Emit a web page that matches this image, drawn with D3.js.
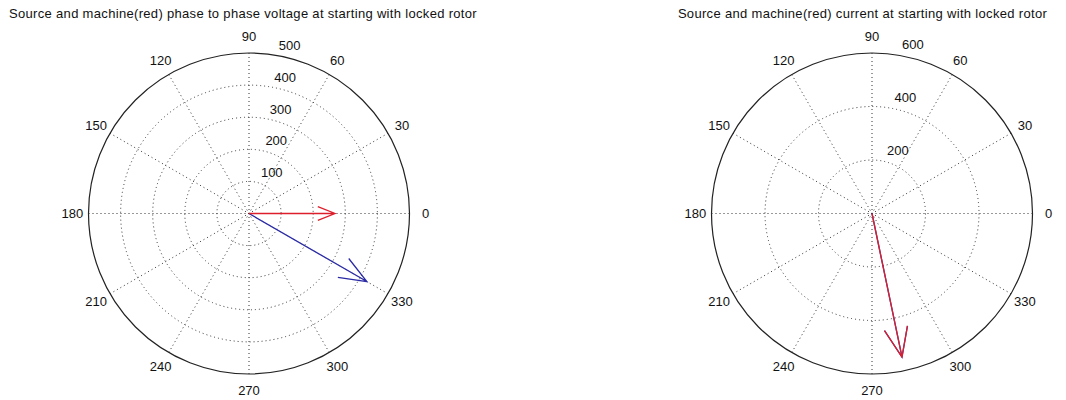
<!DOCTYPE html>
<html>
<head>
<meta charset="utf-8">
<script src="https://cdn.jsdelivr.net/npm/d3@7"></script>
<style>
  html, body { margin: 0; padding: 0; background: #fff; }
  svg text { font-family: "Liberation Sans", Arial, sans-serif; font-size: 13px; fill: #111; }
</style>
</head>
<body>
<svg id="fig" width="1066" height="400"></svg>
<script>
// Phasors at start-up with locked rotor (magnitude, angle in degrees)
const voltageLabels = ["Source", "Machine"];
const voltageMagnitudes = [424, 268];
const voltageAngles = [-30, 0];

const currentLabels = ["Source", "Machine"];
const currentMagnitudes = [548, 548];
const currentAngles = [-78.2, -78.2];

const seriesColors = ["#2a2aa6", "#dd1f2c"];

// Radial tick values for each polar axis
const voltageRadialTicks = [100, 200, 300, 400, 500];
const currentRadialTicks = [200, 400, 600];

// Angular labels every 30 degrees
const angleTicks = [0, 30, 60, 90, 120, 150, 180, 210, 240, 270, 300, 330];

const titles = [
  "Source and machine(red) phase to phase voltage at starting with locked rotor",
  "Source and machine(red) current at starting with locked rotor"
];

const svg = d3.select("#fig");

function compassPlot(opts) {
  const { cx, cy, R, ticks, mags, angs, title, titleX } = opts;
  const rMax = ticks[ticks.length - 1];
  const rInc = ticks[1] - ticks[0];
  const x = d3.scaleLinear().domain([-rMax, rMax]).range([cx - R, cx + R]);
  const y = d3.scaleLinear().domain([-rMax, rMax]).range([cy + R, cy - R]);
  const g = svg.append("g");

  // title
  g.append("text")
    .attr("x", titleX).attr("y", 18)
    .attr("text-anchor", "middle")
    .style("letter-spacing", "0.32px")
    .text(title);

  // outer boundary (solid)
  g.append("circle")
    .attr("cx", x(0)).attr("cy", y(0))
    .attr("r", x(rMax) - x(0))
    .attr("fill", "none").attr("stroke", "#222").attr("stroke-width", 1.2);

  // dotted range rings
  g.selectAll("circle.ring").data(ticks.slice(0, -1)).enter()
    .append("circle").attr("class", "ring")
    .attr("cx", x(0)).attr("cy", y(0))
    .attr("r", d => x(d) - x(0))
    .attr("fill", "none").attr("stroke", "#333").attr("stroke-width", 1)
    .attr("stroke-dasharray", "1,3");

  // dotted spokes across the full diameter
  const spokes = angleTicks.filter(a => a > 0 && a <= 180);
  g.selectAll("line.spoke").data(spokes).enter()
    .append("line").attr("class", "spoke")
    .attr("x1", a => x(-rMax * Math.cos(a * Math.PI / 180)))
    .attr("y1", a => y(-rMax * Math.sin(a * Math.PI / 180)))
    .attr("x2", a => x(rMax * Math.cos(a * Math.PI / 180)))
    .attr("y2", a => y(rMax * Math.sin(a * Math.PI / 180)))
    .attr("stroke", "#333").attr("stroke-width", 1)
    .attr("stroke-dasharray", "1,3");

  // radial tick labels along the 82 degree direction
  const c82 = Math.cos(82 * Math.PI / 180), s82 = Math.sin(82 * Math.PI / 180);
  g.selectAll("text.rlab").data(ticks).enter()
    .append("text").attr("class", "rlab")
    .attr("x", d => x((d + rInc / 20) * c82))
    .attr("y", d => y((d + rInc / 20) * s82))
    .attr("dx", "0.556em").attr("dy", "-0.22em")
    .attr("text-anchor", "start")
    .text(d => d);

  // angle labels at 1.1 * rMax
  g.selectAll("text.alab").data(angleTicks).enter()
    .append("text").attr("class", "alab")
    .attr("x", a => x(1.1 * rMax * Math.cos(a * Math.PI / 180)))
    .attr("y", a => y(1.1 * rMax * Math.sin(a * Math.PI / 180)))
    .attr("text-anchor", "middle")
    .attr("dominant-baseline", "central")
    .text(a => a);

  // compass arrows: shaft plus head (0.8 back, 0.08 half-width of length)
  const shape = [[0, 0], [1, 0], [0.8, 0.08], [1, 0], [0.8, -0.08]];
  const line = d3.line().x(p => x(p[0])).y(p => y(p[1]));
  mags.forEach((m, i) => {
    const t = angs[i] * Math.PI / 180;
    const re = m * Math.cos(t), im = m * Math.sin(t);
    const pts = shape.map(([a, b]) => [a * re - b * im, a * im + b * re]);
    g.append("path")
      .attr("d", line(pts))
      .attr("fill", "none")
      .attr("stroke", seriesColors[i])
      .attr("stroke-width", 1.3)
      .attr("stroke-linejoin", "miter");
  });
}

compassPlot({
  cx: 249, cy: 213.5, R: 160.5,
  ticks: voltageRadialTicks,
  mags: voltageMagnitudes, angs: voltageAngles,
  title: titles[0], titleX: 243
});

compassPlot({
  cx: 872, cy: 213.5, R: 160.5,
  ticks: currentRadialTicks,
  mags: currentMagnitudes, angs: currentAngles,
  title: titles[1], titleX: 862.5
});
</script>
</body>
</html>
